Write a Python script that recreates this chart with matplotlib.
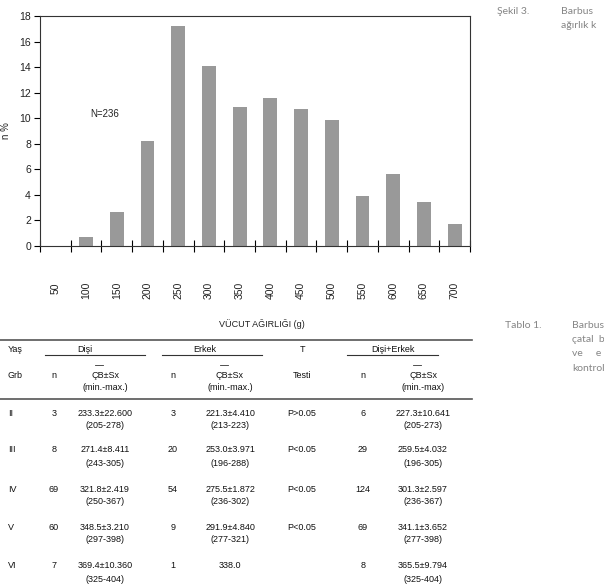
import matplotlib.pyplot as plt
from matplotlib.lines import Line2D

# chart data
weights = ["50", "100", "150", "200", "250", "300", "350", "400", "450",
           "500", "550", "600", "650", "700"]
pct = [None, 0.7, 2.7, 8.25, 17.25, 14.1, 10.85, 11.55, 10.75, 9.9, 3.95, 5.6, 3.45, 1.75]
n_total = 236

# table data
groups = ["II", "III", "IV", "V", "VI"]
f_n = [3, 8, 69, 60, 7]
f_mean = ["233.3±22.600", "271.4±8.411", "321.8±2.419", "348.5±3.210", "369.4±10.360"]
f_range = ["(205-278)", "(243-305)", "(250-367)", "(297-398)", "(325-404)"]
m_n = [3, 20, 54, 9, 1]
m_mean = ["221.3±4.410", "253.0±3.971", "275.5±1.872", "291.9±4.840", "338.0"]
m_range = ["(213-223)", "(196-288)", "(236-302)", "(277-321)", ""]
t_test = ["P>0.05", "P<0.05", "P<0.05", "P<0.05", ""]
a_n = [6, 29, 124, 69, 8]
a_mean = ["227.3±10.641", "259.5±4.032", "301.3±2.597", "341.1±3.652", "365.5±9.794"]
a_range = ["(205-273)", "(196-305)", "(236-367)", "(277-398)", "(325-404)"]

W, H = 604, 587
plt.rcParams['font.family'] = ['Liberation Sans', 'DejaVu Sans']
fig = plt.figure(figsize=(W / 100, H / 100), dpi=100)

# --- bar chart ---
ax = fig.add_axes([40 / W, 1 - 246 / H, 430 / W, 230 / H])
xs = [i for i, v in enumerate(pct) if v is not None]
ax.bar(xs, [pct[i] for i in xs], width=0.45, color="#999999", edgecolor="none")
ax.set_xlim(-0.5, len(weights) - 0.5)
ax.set_ylim(0, 18)
ax.set_yticks(range(0, 19, 2))
ax.set_xticks([i - 0.5 for i in range(len(weights) + 1)])
ax.set_xticklabels([])
ax.set_xticks(range(len(weights)), minor=True)
ax.set_xticklabels(weights, minor=True, rotation=90)
ax.tick_params(axis='x', which='major', direction='inout', length=8, width=0.8)
ax.tick_params(axis='x', which='minor', length=0, pad=26, labelsize=7.5, labelcolor="#222222")
ax.tick_params(axis='y', direction='out', length=4.5, width=0.8, pad=2, labelsize=7.5,
               labelcolor="#222222")
for s in ax.spines.values():
    s.set_linewidth(0.8)
    s.set_color("#333333")
ax.text(1.15, 10.3, f"N={n_total}", fontsize=7, color="#222222", va="center")

# --- overlay in pixel coordinates for labels and table ---
ov = fig.add_axes([0, 0, 1, 1])
ov.set_xlim(0, W)
ov.set_ylim(H, 0)
ov.axis("off")
ov.patch.set_alpha(0)

ov.text(6, 131, "n %", rotation=90, fontsize=7, ha="center", va="center", color="#222222")
ov.text(262, 324, "VÜCUT AĞIRLIĞI (g)", fontsize=6.5, ha="center", va="center", color="#222222")

side = dict(fontsize=7.5, color="#858585", fontfamily="Lato", va="center")
ov.text(497, 11, "Şekil 3.", **side)
ov.text(561, 11, "Barbus", **side)
ov.text(561, 25, "ağırlık k", **side)
ov.text(505, 325, "Tablo 1.", **side)
for k, line in enumerate(["Barbus", "çatal  b", "ve     e", "kontrol"]):
    ov.text(572, 325 + k * 14.5, line, **side)

# table rules
def hline(x0, x1, y, lw=0.8, c="#333333"):
    ov.add_line(Line2D([x0, x1], [y, y], lw=lw, color=c))

hline(0, 472, 340, lw=1.2, c="#555555")
hline(0, 472, 399, lw=1.2, c="#555555")
hline(45, 145, 355)
hline(162, 262, 355)
hline(347, 438, 355)

tf = dict(fontsize=6.5, color="#111111", va="center", ha="center")
ov.text(8, 349, "Yaş", **{**tf, "ha": "left"})
ov.text(85, 349, "Dişi", **tf)
ov.text(205, 349, "Erkek", **tf)
ov.text(302, 349, "T", **tf)
ov.text(393, 349, "Dişi+Erkek", **tf)

ov.text(8, 375, "Grb", **{**tf, "ha": "left"})
cols_n = [54, 173, 363]
cols_m = [105, 230, 423]
for cx in cols_n:
    ov.text(cx, 375, "n", **tf)
for cx in cols_m:
    ov.text(cx, 375, "ÇB±Sx", **tf)
    hline(cx - 10, cx - 2, 365, lw=0.6)
ov.text(cols_m[0], 387, "(min.-max.)", **tf)
ov.text(cols_m[1], 387, "(min.-max.)", **tf)
ov.text(302, 375, "Testi", **tf)
ov.text(cols_m[2], 387, "(min.-max)", **tf)

row_y = [413, 450, 489, 527, 566]
for i, y in enumerate(row_y):
    ov.text(8, y, groups[i], **{**tf, "ha": "left"})
    ov.text(cols_n[0], y, str(f_n[i]), **tf)
    ov.text(cols_m[0], y, f_mean[i], **tf)
    ov.text(cols_m[0], y + 13, f_range[i], **tf)
    ov.text(cols_n[1], y, str(m_n[i]), **tf)
    ov.text(cols_m[1], y, m_mean[i], **tf)
    ov.text(cols_m[1], y + 13, m_range[i], **tf)
    ov.text(302, y, t_test[i], **tf)
    ov.text(cols_n[2], y, str(a_n[i]), **tf)
    ov.text(cols_m[2], y, a_mean[i], **tf)
    ov.text(cols_m[2], y + 13, a_range[i], **tf)

fig.savefig("out.png", dpi=100)
